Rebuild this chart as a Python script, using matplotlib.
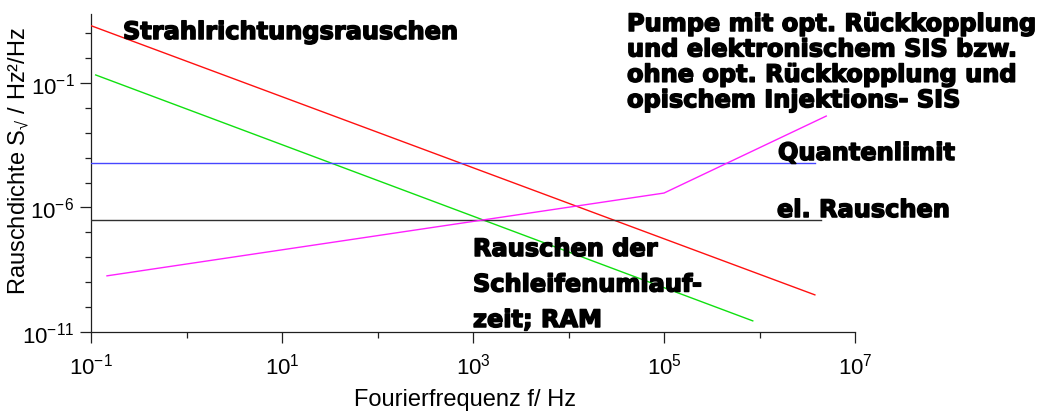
import matplotlib
matplotlib.use("Agg")
import matplotlib.pyplot as plt
import matplotlib.patheffects as pe
from matplotlib.ticker import FixedLocator, FixedFormatter, NullFormatter

# =============================
# Data
# =============================
x_major = [1e-1, 1e1, 1e3, 1e5, 1e7]
x_labels = [r"$\mathdefault{10^{-1}}$", r"$\mathdefault{10^{1}}$",
            r"$\mathdefault{10^{3}}$", r"$\mathdefault{10^{5}}$",
            r"$\mathdefault{10^{7}}$"]
x_minor = [1e0, 1e2, 1e4, 1e6]
y_major = [1e-11, 1e-6, 1e-1]
y_labels = [r"$\mathdefault{10^{-11}}$", r"$\mathdefault{10^{-6}}$",
            r"$\mathdefault{10^{-1}}$"]
y_minor = [1e-10, 1e-9, 1e-8, 1e-7, 1e-5, 1e-4, 1e-3, 1e-2, 1e0, 1e1]

# Strahlrichtungsrauschen (red)
red_f = [0.1, 3.8e6]
red_s = [20.0, 3.1e-10]
# Rauschen der Schleifenumlaufzeit; RAM (green)
green_f = [0.112, 8.5e5]
green_s = [0.21, 2.8e-11]
# Quantenlimit (blue)
blue_f = [0.1, 3.8e6]
blue_s = [6.2e-5, 6.2e-5]
# el. Rauschen (black)
black_f = [0.1, 4.4e6]
black_s = [3.2e-7, 3.2e-7]
# Pumpe ... SIS (magenta)
mag_f = [0.147, 1e5, 5e6]
mag_s = [1.8e-9, 3.8e-6, 4.7e-3]

pumpe_lines = ["Pumpe mit opt. Rückkopplung",
               "und elektronischem SIS bzw.",
               "ohne opt. Rückkopplung und",
               "opischem Injektions- SIS"]
ram_lines = ["Rauschen der", "Schleifenumlauf-", "zeit; RAM"]

# =============================
# Figure setup
# =============================
plt.rcParams['font.family'] = ['Liberation Sans', 'DejaVu Sans']
plt.rcParams['mathtext.fontset'] = 'custom'
plt.rcParams['mathtext.rm'] = 'Liberation Sans'
plt.rcParams['mathtext.it'] = 'Liberation Sans'
plt.rcParams['axes.unicode_minus'] = False

W, H = 1046, 414
fig = plt.figure(figsize=(W / 100, H / 100), dpi=100)
ax = fig.add_axes([91 / W, 81 / H, (855 - 91) / W, (333 - 15) / H])

ax.plot(red_f, red_s, color='#ff1010', lw=1.0, zorder=3)
ax.plot(green_f, green_s, color='#10e010', lw=1.0, zorder=3)
ax.plot(blue_f, blue_s, color='#4646ff', lw=1.0, zorder=3)
ax.plot(black_f, black_s, color='#303030', lw=1.0, zorder=3)
ax.plot(mag_f, mag_s, color='#ff20ff', lw=1.0, zorder=3)

ax.set_xscale('log')
ax.set_yscale('log')
ax.set_xlim(1e-1, 1e7)
ax.set_ylim(1e-11, 10 ** 1.77)

ax.xaxis.set_major_locator(FixedLocator(x_major))
ax.xaxis.set_major_formatter(FixedFormatter(x_labels))
ax.xaxis.set_minor_locator(FixedLocator(x_minor))
ax.yaxis.set_major_locator(FixedLocator(y_major))
ax.yaxis.set_major_formatter(FixedFormatter(y_labels))
ax.yaxis.set_minor_locator(FixedLocator(y_minor))
ax.xaxis.set_minor_formatter(NullFormatter())
ax.yaxis.set_minor_formatter(NullFormatter())

ax.spines['top'].set_visible(False)
ax.spines['right'].set_visible(False)
for s in ['left', 'bottom']:
    ax.spines[s].set_linewidth(0.9)
    ax.spines[s].set_color('#202020')

ax.tick_params(which='major', length=8, width=0.9, direction='out',
               labelsize=16, color='#202020', pad=4)
ax.tick_params(which='minor', length=4, width=0.9, direction='out',
               color='#202020')
ax.tick_params(axis='x', which='major', pad=7)

ax.set_xlabel("Fourierfrequenz f/ Hz", fontsize=17)
ax.xaxis.set_label_coords(0.49, -0.175)
ax.set_ylabel("Rauschdichte S$_{\\mathrm{√}}$ / Hz²/Hz", fontsize=17)
ax.yaxis.set_label_coords(-0.077, 0.54)

# =============================
# Curve labels
# =============================
bold = dict(family='DejaVu Sans', fontweight='bold', fontsize=17.3,
            va='baseline', ha='left', color='black', zorder=1,
            path_effects=[pe.withStroke(linewidth=1.1, foreground='black')])

fig.text(123 / W, 1 - 40 / H, "Strahlrichtungsrauschen", **bold)
for i, line in enumerate(pumpe_lines):
    fig.text(627 / W, 1 - (32 + 25.4 * i) / H, line, **bold)
fig.text(778 / W, 1 - 161 / H, "Quantenlimit", **bold)
fig.text(777 / W, 1 - 218 / H, "el. Rauschen", **bold)
for i, line in enumerate(ram_lines):
    fig.text(473 / W, 1 - (257 + 35.5 * i) / H, line, **bold)

fig.savefig("out.png", dpi=100)
